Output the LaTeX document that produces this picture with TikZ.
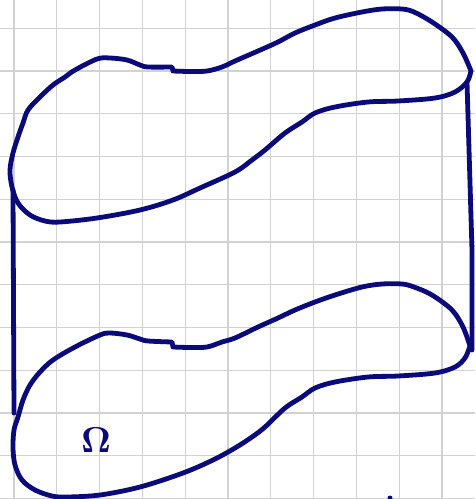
\documentclass[tikz,border=0pt]{standalone}
\usepackage{tikz}
\usetikzlibrary{positioning}
\definecolor{inkblue}{RGB}{10,10,122}
\definecolor{gridgray}{RGB}{210,210,210}

\begin{document}
\begin{tikzpicture}[
		x=1pt,
		y=-1pt,
		gridline/.style={
			draw=gridgray,
			line width=1.3pt
		},
		ink/.style={
			draw=inkblue,
			line width=4.8pt,
			line cap=round,
			line join=round
		}
		]
		
		% Page
		\fill[white] (0,0) rectangle (475,499);
		\useasboundingbox (0,0) rectangle (475,499);
		
		% Grid
		\foreach \k in {0,...,10}
		\draw[gridline] ({14+42.8*\k},0) -- ({14+42.8*\k},499);
		\foreach \k in {0,...,11}
		\draw[gridline] (0,{28.3+42.75*\k}) -- (475,{28.3+42.75*\k});
		
		% Upper sheet
		\draw[ink] plot[smooth, tension=0.55] coordinates {
			(173,71) (190,71.5) (207,71) (222,67) (235,61) (258,51) (278,42)
			(295,33) (315,25) (335,18) (362,12) (382,9) (402,9) (414,12)
			(432,22) (452,37) (463,53) (471,71)}
			-- plot[smooth, tension=0.55] coordinates {
			(471,71) (467,82) (455,92) (435,98) (398,101) (368,102) (335,107)
			(315,113) (302,122) (285,133) (265,150) (252,160) (235,172)
			(200,188) (173,200) (140,210) (97,218) (60,222) (45,221) (30,215)
			(18,203) (12,187) (10,170) (13,153) (18,137) (23,123) (28,110)
			(40,97) (53,85) (65,77) (75,70) (97,59) (110,58) (127,60)
			(140,65) (148,67) (172,67)}
			-- (173,71);
		
		% Lower sheet
		\draw[ink] plot[smooth, tension=0.55] coordinates {
			(173,347) (190,347.5) (207,347) (222,342) (235,338) (258,327)
			(278,318) (295,310) (315,302) (335,295) (362,287) (382,284)
			(402,284) (414,287) (432,295) (452,310) (463,327) (470,346)}
			-- plot[smooth, tension=0.55] coordinates {
			(470,346) (465,358) (455,367) (435,373) (398,376) (368,377)
			(335,382) (315,388) (302,397) (285,408) (265,427) (252,437)
			(235,448) (213,460) (183,473) (140,487) (100,495) (67,497)
			(52,496) (35,490) (22,480) (15,465) (13,448) (14,430) (18,417)
			(23,400) (30,385) (40,372) (53,360) (75,347) (100,335) (110,333)
			(127,335) (140,339) (148,341) (172,342)}
			-- (173,347);
		
		% Side edges
		\coordinate (upL) at (13,190);
		\coordinate (lowL) at (14,413);
		\coordinate (upR) at (467,82);
		\coordinate (midR) at (472,250);
		\coordinate (lowR) at (472,350);
		\draw[ink] (upL) -- (lowL);
		\draw[ink] (upR) -- (midR) -- (lowR);
		
		% Label
		\node[text=inkblue, scale=3.6, inner sep=0pt] (omega) at (96,440) {$\mathbf{\Omega}$};
		\fill[inkblue] (390,498) circle (2.5);
		
	\end{tikzpicture}
\end{document}
